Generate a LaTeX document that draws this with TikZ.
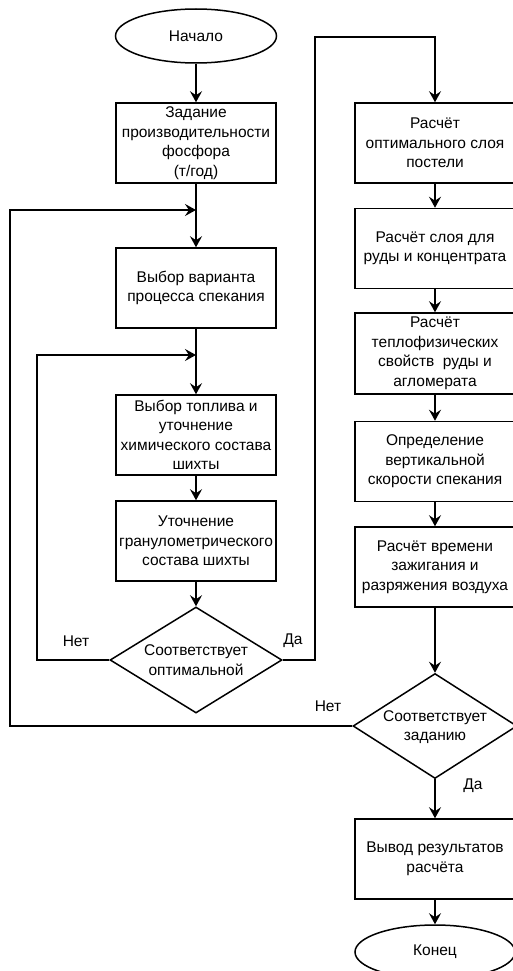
\documentclass[tikz,border=0pt]{standalone}
\usepackage{fontspec}
\setmainfont{Liberation Sans}
\usetikzlibrary{shapes.geometric,arrows.meta}
\begin{document}
\begin{tikzpicture}[x=1pt,y=-1pt,
  line width=1.5pt,
  every node/.style={font=\fontsize{15.5}{19.5}\selectfont, align=center, inner sep=0pt},
  proc/.style={draw, rectangle, minimum width=160pt, minimum height=80pt},
  term/.style={draw, ellipse, minimum width=161pt, minimum height=54pt},
  decide/.style={draw, diamond, minimum width=#1, minimum height=106pt},
  flow/.style={-{Stealth[length=11pt,width=12pt,inset=4pt]}},
  lbl/.style={font=\fontsize{15.5}{17}\selectfont}]
\useasboundingbox (0,0) rectangle (512,971);

% left column
\node[term] (start) at (196,36) {Начало};
\node[proc] (b1) at (196,143) {Задание\\производительности\\фосфора\\(т/год)};
\node[proc] (b2) at (196,288) {Выбор варианта\\процесса спекания};
\node[proc] (b3) at (196,435) {Выбор топлива и\\уточнение\\химического состава\\шихты};
\node[proc] (b4) at (196,541) {Уточнение\\гранулометрического\\состава шихты};
\node[decide=172pt] (d1) at (196,660) {};
\node (d1t) at (196,660) {Соответствует\\оптимальной};

% right column
\node[proc] (r1) at (435,143) {Расчёт\\оптимального слоя\\постели};
\node[proc] (r2) at (435,248.5) {Расчёт слоя для\\руды и концентрата};
\node[proc, minimum height=81pt] (r3) at (435,353.5) {Расчёт\\теплофизических\\свойств\ \ руды и\\агломерата};
\node[proc] (r4) at (435,461.5) {Определение\\вертикальной\\скорости спекания};
\node[proc] (r5) at (435,567) {Расчёт времени\\зажигания и\\разряжения воздуха};
\node[decide=164pt, minimum height=105pt] (d2) at (435,726) {};
\node (d2t) at (435,727) {Соответствует\\заданию};
\node[proc] (r6) at (435,859) {Вывод результатов\\расчёта};
\node[term, minimum width=160pt] (end) at (435,952) {Конец};

% junctions and loop corners
\coordinate (j1) at (196,210);
\coordinate (j2) at (196,355);
\coordinate (c1) at (37,660);
\coordinate (c2) at (37,355);
\coordinate (c3) at (315,660);
\coordinate (c4) at (315,37);
\coordinate (c5) at (435,37);
\coordinate (c6) at (10,726);
\coordinate (c7) at (10,210);

% main flow
\draw[flow] (start) -- (b1);
\draw[flow] (b1) -- (b2);
\draw[flow] (b2) -- (b3);
\draw[flow] (b3) -- (b4);
\draw[flow] (b4) -- (d1);
\draw[flow] (r1) -- (r2);
\draw[flow] (r2) -- (r3);
\draw[flow] (r3) -- (r4);
\draw[flow] (r4) -- (r5);
\draw[flow] (r5) -- (d2);
\draw[flow] (d2) -- (r6);
\draw[flow] (r6) -- (end);

% branches
\draw[flow] (d1.west) -- (c1) -- (c2) -- (j2);
\draw[flow] (d1.east) -- (c3) -- (c4) -- (c5) -- (r1);
\draw[flow] (d2.west) -- (c6) -- (c7) -- (j1);

% branch labels
\node[lbl] (n1) at (76,641) {Нет};
\node[lbl] (y1) at (293,641) {Да};
\node[lbl] (n2) at (328,706) {Нет};
\node[lbl] (y2) at (473,786) {Да};
\end{tikzpicture}
\end{document}
